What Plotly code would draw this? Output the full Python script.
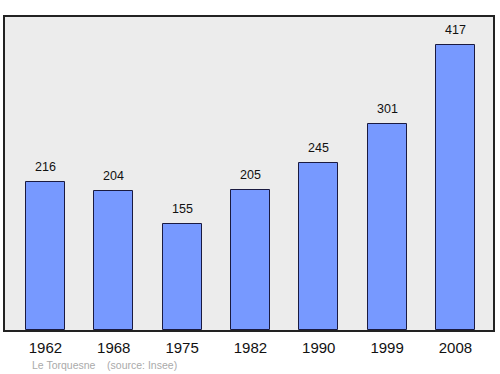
import plotly.graph_objects as go

years = ["1962", "1968", "1975", "1982", "1990", "1999", "2008"]
population = [216, 204, 155, 205, 245, 301, 417]

positions = list(range(len(years)))

fig = go.Figure()
fig.add_trace(go.Bar(
    x=positions, y=population, width=0.57,
    marker=dict(color="#7799ff", line=dict(color="#1a1a40", width=1)),
))
for p, v in zip(positions, population):
    fig.add_annotation(x=p, y=v, text=str(v), showarrow=False, yanchor="middle", yshift=15,
                       font=dict(family="Liberation Sans, Arial", size=12.5, color="#111"))
fig.update_layout(
    width=500, height=374,
    margin=dict(l=5, r=5, t=17, b=44),
    paper_bgcolor="white", plot_bgcolor="#ececec",
    showlegend=False,
    xaxis=dict(range=[-0.592, 6.55], tickmode="array", tickvals=positions, ticktext=years,
               showgrid=False, zeroline=False, ticks="", ticklabelstandoff=3,
               tickfont=dict(family="Liberation Sans, Arial", size=15, color="#111"),
               showline=True, linecolor="#222", linewidth=1.5, mirror=True),
    yaxis=dict(range=[0, 458], showticklabels=False, showgrid=False, zeroline=False,
               showline=True, linecolor="#222", linewidth=1.5, mirror=True),
    font=dict(family="Liberation Sans, Arial"),
    bargap=0,
)
fig.add_annotation(x=25/490, y=-(365-330)/313, xref="paper", yref="paper", xanchor="left", yanchor="middle",
                   text="Le Torquesne    (source: Insee)", showarrow=False,
                   font=dict(size=10.5, color="#aaaaaa"))
fig.write_html("out.html")
